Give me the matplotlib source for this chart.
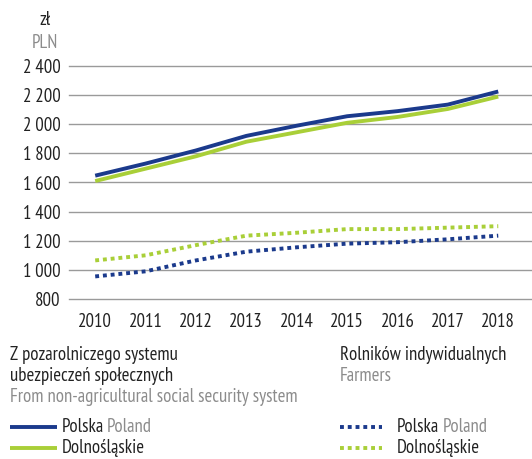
import matplotlib
matplotlib.use("Agg")
import matplotlib.pyplot as plt
from matplotlib.lines import Line2D

lata = [2010, 2011, 2012, 2013, 2014, 2015, 2016, 2017, 2018]
polska_pozarol = [1647, 1730, 1820, 1920, 1990, 2055, 2090, 2135, 2225]
dolnoslaskie_pozarol = [1610, 1695, 1780, 1880, 1945, 2010, 2050, 2105, 2190]
polska_rolnicy = [955, 990, 1065, 1125, 1155, 1180, 1190, 1210, 1235]
dolnoslaskie_rolnicy = [1065, 1100, 1170, 1235, 1255, 1280, 1280, 1290, 1300]
yticks = [800, 1000, 1200, 1400, 1600, 1800, 2000, 2200, 2400]

GRANAT = "#1b3a8c"
LIMONKA = "#a9cf38"
SZARY = "#8c8c8c"
CZARNY = "#222222"
ROZMIAR = 13.5

plt.rcParams["font.family"] = ["PT Sans Narrow", "DejaVu Sans"]

W, H = 532, 459
fig = plt.figure(figsize=(W / 100, H / 100), dpi=100)
ax = fig.add_axes([69 / W, 1 - 299 / H, 1 - 69 / W, (299 - 66) / H])

ax.plot(lata, polska_pozarol, color=GRANAT, lw=2.8, solid_capstyle="butt")
ax.plot(lata, dolnoslaskie_pozarol, color=LIMONKA, lw=2.8, solid_capstyle="butt")
ax.plot(lata, polska_rolnicy, color=GRANAT, lw=2.8, ls=(0, (1, 1)), dash_capstyle="butt")
ax.plot(lata, dolnoslaskie_rolnicy, color=LIMONKA, lw=2.8, ls=(0, (1, 1)), dash_capstyle="butt")

ax.set_xlim(2009.48, 2018.67)
ax.set_ylim(800, 2400)
ax.set_yticks(yticks)
ax.set_yticklabels([f"{v:,}".replace(",", "\u2009") for v in yticks])
ax.set_xticks(lata)
ax.tick_params(axis="both", length=0, labelsize=ROZMIAR, colors=CZARNY)
ax.tick_params(axis="y", pad=6)
ax.tick_params(axis="x", pad=10)
for s in ax.spines.values():
    s.set_visible(False)
ax.yaxis.grid(True, color="#9a9a9a", lw=1)
for g in ax.get_ygridlines():
    g.set_clip_on(False)
ax.set_axisbelow(True)


def tekst(x, y, s, color=CZARNY, ha="left"):
    return fig.text(x / W, 1 - y / H, s, color=color, fontsize=ROZMIAR, ha=ha, va="center")


tekst(45, 20, "zł", ha="center")
tekst(45, 43, "PLN", color=SZARY, ha="center")

tekst(10, 355, "Z pozarolniczego systemu")
tekst(10, 376, "ubezpieczeń społecznych")
tekst(10, 397, "From non-agricultural social security system", color=SZARY)
tekst(340, 355, "Rolników indywidualnych")
tekst(340, 376, "Farmers", color=SZARY)


def wpis(x0, x1, y, color, ls, xt, etykieta, dop=None):
    ln = Line2D([x0 / W, x1 / W], [1 - y / H, 1 - y / H], transform=fig.transFigure,
                color=color, lw=2.8, ls=ls, solid_capstyle="butt", dash_capstyle="butt")
    fig.add_artist(ln)
    t = tekst(xt, y, etykieta)
    if dop:
        fig.canvas.draw()
        bb = t.get_window_extent()
        fig.text((bb.x1 + 3) / W, 1 - y / H, dop, color=SZARY, fontsize=ROZMIAR, va="center")


wpis(10, 57, 427, GRANAT, "-", 62, "Polska", "Poland")
wpis(10, 57, 448, LIMONKA, "-", 62, "Dolnośląskie")
wpis(340, 382, 427, GRANAT, (0, (1, 1)), 397, "Polska", "Poland")
wpis(340, 382, 448, LIMONKA, (0, (1, 1)), 397, "Dolnośląskie")

fig.savefig("out.png", dpi=100)
